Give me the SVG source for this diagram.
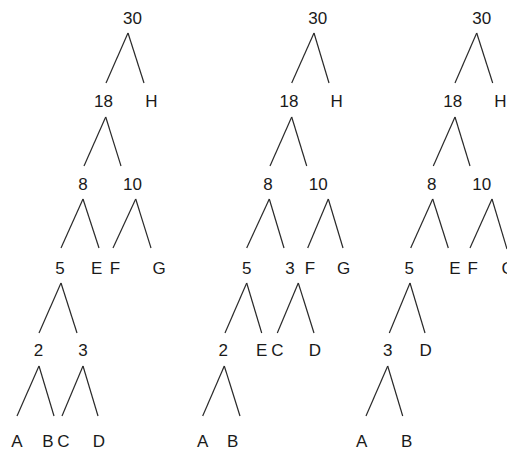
<svg xmlns="http://www.w3.org/2000/svg" width="507" height="453" viewBox="0 0 507 453">
<style>
text{font-family:"Liberation Sans",Arial,sans-serif;font-size:17px;fill:#1a1a1a;text-anchor:middle}
line{stroke:#2a2a2a;stroke-width:1.2;fill:none}
</style>
<rect width="507" height="453" fill="#fff"/>
<g id="connectors">
<line x1="128" y1="33" x2="106" y2="83"/><line x1="128" y1="33" x2="144" y2="83"/>
<line x1="105.7" y1="117" x2="84" y2="166"/><line x1="105.7" y1="117" x2="121" y2="166"/>
<line x1="83" y1="199" x2="61" y2="248"/><line x1="83" y1="199" x2="99" y2="248"/>
<line x1="135.7" y1="199" x2="113" y2="248"/><line x1="135.7" y1="199" x2="151" y2="248"/>
<line x1="61" y1="283" x2="39" y2="333"/><line x1="61" y1="283" x2="77" y2="333"/>
<line x1="39" y1="366" x2="17" y2="416"/><line x1="39" y1="366" x2="54" y2="416"/>
<line x1="83" y1="366" x2="62" y2="416"/><line x1="83" y1="366" x2="98" y2="416"/>
<line x1="314" y1="33" x2="291.7" y2="83"/><line x1="314" y1="33" x2="329" y2="83"/>
<line x1="291.7" y1="117" x2="270" y2="166"/><line x1="291.7" y1="117" x2="306.7" y2="166"/>
<line x1="269.3" y1="199" x2="246.7" y2="248"/><line x1="269.3" y1="199" x2="284" y2="248"/>
<line x1="328.3" y1="199" x2="307.7" y2="248"/><line x1="328.3" y1="199" x2="343" y2="248"/>
<line x1="246.7" y1="283" x2="225" y2="333"/><line x1="246.7" y1="283" x2="261.7" y2="333"/>
<line x1="298.3" y1="283" x2="277.3" y2="333"/><line x1="298.3" y1="283" x2="314" y2="333"/>
<line x1="224.3" y1="366" x2="202.7" y2="416"/><line x1="224.3" y1="366" x2="240" y2="416"/>
<line x1="476.7" y1="33" x2="455" y2="83"/><line x1="476.7" y1="33" x2="492.7" y2="83"/>
<line x1="455" y1="117" x2="433.3" y2="166"/><line x1="455" y1="117" x2="470" y2="166"/>
<line x1="432.7" y1="199" x2="410.7" y2="248"/><line x1="432.7" y1="199" x2="448.3" y2="248"/>
<line x1="492" y1="199" x2="470" y2="248"/><line x1="492" y1="199" x2="507" y2="249"/>
<line x1="410" y1="283" x2="389.3" y2="333"/><line x1="410" y1="283" x2="425" y2="333"/>
<line x1="387.7" y1="366" x2="366" y2="416"/><line x1="387.7" y1="366" x2="402.7" y2="416"/>
</g>
<g id="tree1">
<g id="t1-30"><text x="132.5" y="23.5">30</text></g>
<g id="t1-18"><text x="103.5" y="106.5">18</text></g>
<g id="t1-H"><text x="151.5" y="106.5">H</text></g>
<g id="t1-8"><text x="83" y="189.5">8</text></g>
<g id="t1-10"><text x="132.5" y="189.5">10</text></g>
<g id="t1-5"><text x="60" y="273.5">5</text></g>
<g id="t1-E"><text x="96.7" y="273.5">E</text></g>
<g id="t1-F"><text x="115" y="273.5">F</text></g>
<g id="t1-G"><text x="159" y="273.5">G</text></g>
<g id="t1-2"><text x="38.5" y="355.5">2</text></g>
<g id="t1-3"><text x="83" y="355.5">3</text></g>
<g id="t1-A"><text x="17" y="447">A</text></g>
<g id="t1-B"><text x="48" y="447">B</text></g>
<g id="t1-C"><text x="63.5" y="447">C</text></g>
<g id="t1-D"><text x="99" y="447">D</text></g>
</g>
<g id="tree2">
<g id="t2-30"><text x="317.7" y="23.5">30</text></g>
<g id="t2-18"><text x="289" y="106.5">18</text></g>
<g id="t2-H"><text x="336.7" y="106.5">H</text></g>
<g id="t2-8"><text x="268" y="189.5">8</text></g>
<g id="t2-10"><text x="318.3" y="189.5">10</text></g>
<g id="t2-5"><text x="246.7" y="273.5">5</text></g>
<g id="t2-3"><text x="290" y="273.5">3</text></g>
<g id="t2-F"><text x="310" y="273.5">F</text></g>
<g id="t2-G"><text x="343.5" y="273.5">G</text></g>
<g id="t2-2"><text x="223.3" y="355.5">2</text></g>
<g id="t2-E"><text x="261.7" y="355.5">E</text></g>
<g id="t2-C"><text x="277.3" y="355.5">C</text></g>
<g id="t2-D"><text x="315" y="355.5">D</text></g>
<g id="t2-A"><text x="202.7" y="447">A</text></g>
<g id="t2-B"><text x="232.7" y="447">B</text></g>
</g>
<g id="tree3">
<g id="t3-30"><text x="481.7" y="23.5">30</text></g>
<g id="t3-18"><text x="452.7" y="106.5">18</text></g>
<g id="t3-H"><text x="500.5" y="106.5">H</text></g>
<g id="t3-8"><text x="431.7" y="189.5">8</text></g>
<g id="t3-10"><text x="481.7" y="189.5">10</text></g>
<g id="t3-5"><text x="409.3" y="273.5">5</text></g>
<g id="t3-E"><text x="455" y="273.5">E</text></g>
<g id="t3-F"><text x="472.7" y="273.5">F</text></g>
<g id="t3-G"><text x="508" y="273.5">G</text></g>
<g id="t3-3"><text x="387.7" y="355.5">3</text></g>
<g id="t3-D"><text x="425.7" y="355.5">D</text></g>
<g id="t3-A"><text x="361.7" y="447">A</text></g>
<g id="t3-B"><text x="406.7" y="447">B</text></g>
</g>
</svg>
